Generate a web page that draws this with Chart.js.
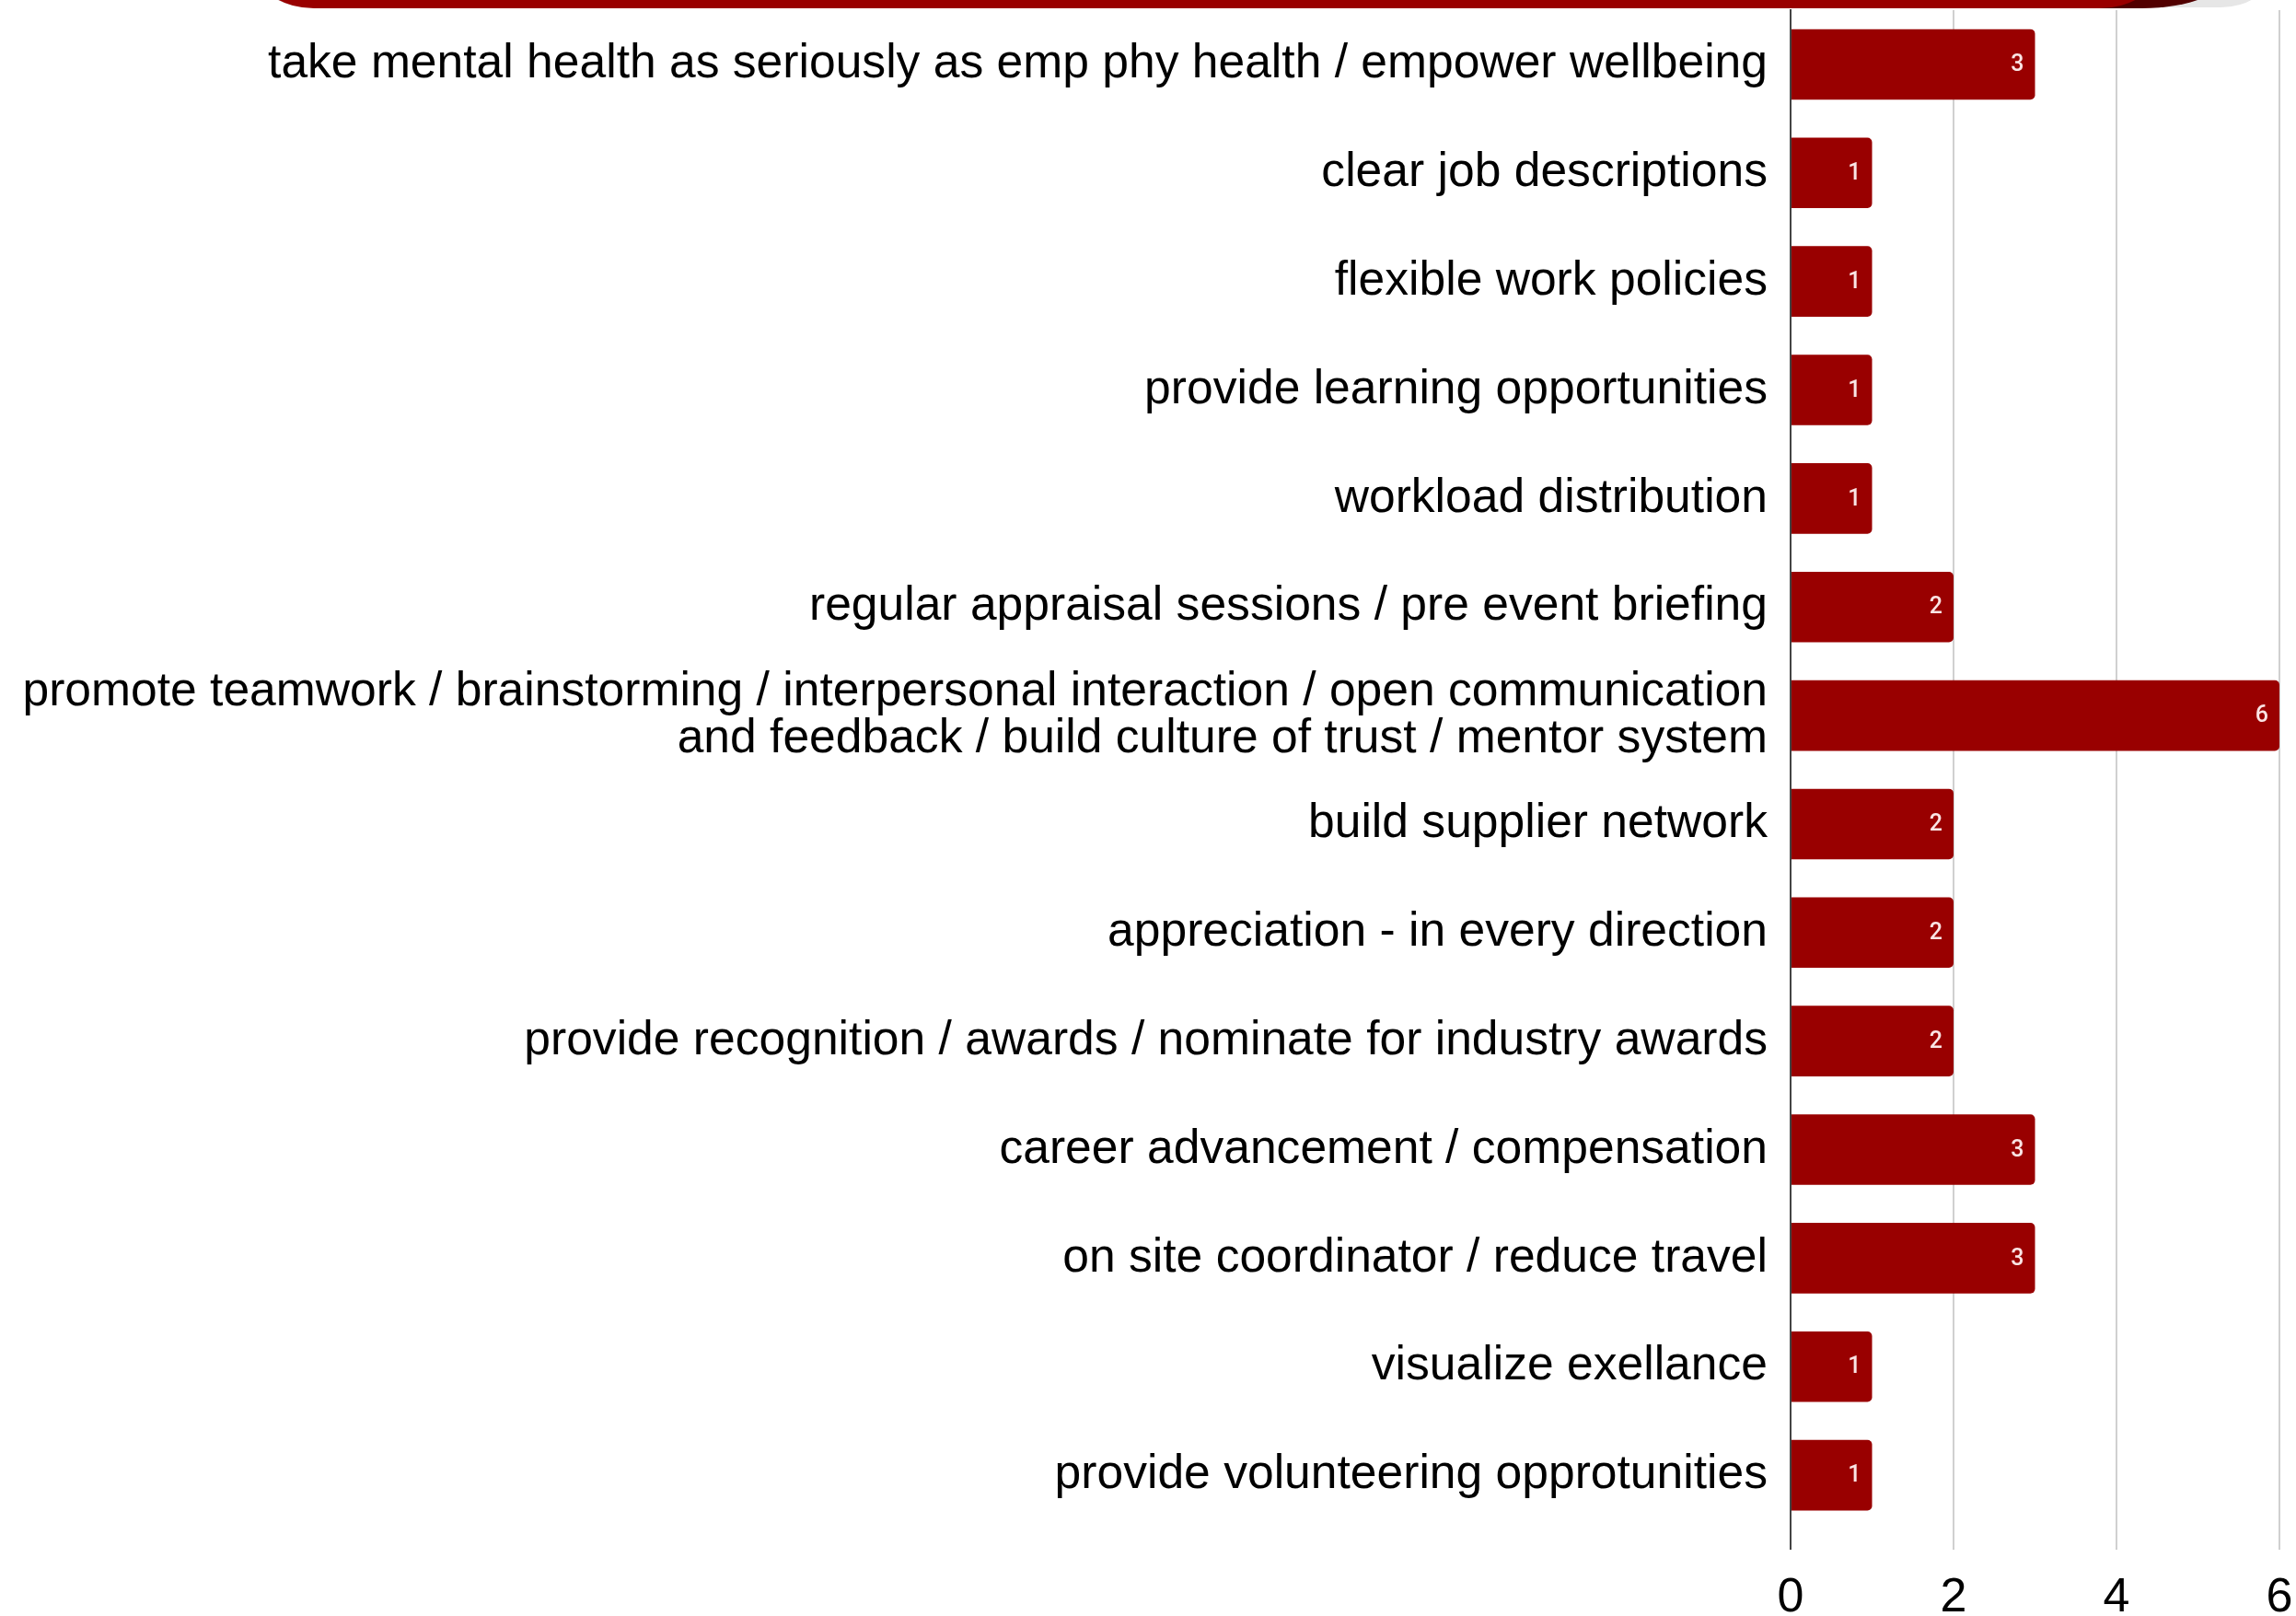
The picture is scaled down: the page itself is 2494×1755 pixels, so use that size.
<!DOCTYPE html>
<html>
<head>
<meta charset="utf-8">
<script src="https://cdn.jsdelivr.net/npm/chart.js@4"></script>
<style>
  body { margin: 0; background: #fff; overflow: hidden; }
  #wrap { position: relative; width: 2494px; height: 1755px; }
  .banner { position: absolute; top: -30px; height: 39px; left: 281px; }
</style>
</head>
<body>
<div id="wrap">
  <canvas id="graf"></canvas>
  <div class="banner" style="width:2185px;height:38px;background:#e6e6e6;border-radius:0 0 53px 53px / 0 0 38px 38px"></div>
  <div class="banner" style="width:2140px;background:#520000;border-radius:0 0 94px 94px / 0 0 39px 39px"></div>
  <div class="banner" style="width:2060px;background:#990000;border-radius:0 0 60px 60px / 0 0 39px 39px"></div>
</div>
<script>
let kategorije = [
	"take mental health as seriously as emp phy health / empower wellbeing",
	"clear job descriptions",
	"flexible work policies",
	"provide learning opportunities",
	"workload distribution",
	"regular appraisal sessions / pre event briefing",
	["promote teamwork / brainstorming / interpersonal interaction / open communication",
	 "and feedback / build culture of trust / mentor system"],
	"build supplier network",
	"appreciation - in every direction",
	"provide recognition / awards / nominate for industry awards",
	"career advancement / compensation",
	"on site coordinator / reduce travel",
	"visualize exellance",
	"provide volunteering opprotunities"
];

let vrednosti = [3, 1, 1, 1, 1, 2, 6, 2, 2, 2, 3, 3, 1, 1];

let osTicks = [0, 2, 4, 6];

// napisi vrednosti na koncu stolpcev
let oznakeStolpcev = {
	id: "oznakeStolpcev",
	afterDatasetsDraw(chart) {
		let ctx = chart.ctx;
		let meta = chart.getDatasetMeta(0);
		ctx.save();
		ctx.fillStyle = "rgba(255,240,240,0.95)";
		ctx.font = "500 25px Roboto";
		ctx.textAlign = "right";
		ctx.textBaseline = "middle";
		meta.data.forEach((bar, i) => {
			ctx.fillText(String(vrednosti[i]), bar.x - 12, bar.y + 1);
		});
		ctx.restore();
	}
};

let graf = new Chart("graf", {
	type: "bar",
	data: {
		labels: kategorije,
		datasets: [{
			data: vrednosti,
			backgroundColor: "#990000",
			borderRadius: { topRight: 5, bottomRight: 5, topLeft: 0, bottomLeft: 0 },
			borderSkipped: "left",
			categoryPercentage: 1,
			barPercentage: 0.65
		}]
	},
	plugins: [oznakeStolpcev],
	options: {
		indexAxis: "y",
		responsive: true,
		maintainAspectRatio: false,
		devicePixelRatio: 1,
		animation: false,
		layout: { padding: { top: 11, right: 18, left: 0, bottom: 0 } },
		plugins: {
			legend: { display: false },
			tooltip: { enabled: false }
		},
		scales: {
			x: {
				min: 0,
				max: 6,
				afterBuildTicks(scale) {
					scale.ticks = osTicks.map(v => ({ value: v }));
				},
				afterFit(scale) {
					scale.height = 94;
					scale.paddingLeft = 0;
					scale.paddingRight = 0;
				},
				border: { display: false },
				grid: {
					color: c => c.tick && c.tick.value === 0 ? "#444" : "#d0d0d0",
					tickColor: c => c.tick && c.tick.value === 0 ? "#444" : "#d0d0d0",
					lineWidth: 2,
					drawTicks: true,
					tickLength: 22
				},
				ticks: {
					color: "#000",
					padding: 21,
					font: { family: "Liberation Sans", size: 52 }
				}
			},
			y: {
				afterFit(scale) {
					scale.width = 1945;
					scale.paddingTop = 0;
					scale.paddingBottom = 0;
				},
				border: { display: true, color: "#444", width: 2 },
				grid: { display: false },
				ticks: {
					color: "#000",
					padding: 17,
					font: { family: "Liberation Sans", size: 51.6, lineHeight: 1.0 }
				}
			}
		}
	}
});
</script>
</body>
</html>
